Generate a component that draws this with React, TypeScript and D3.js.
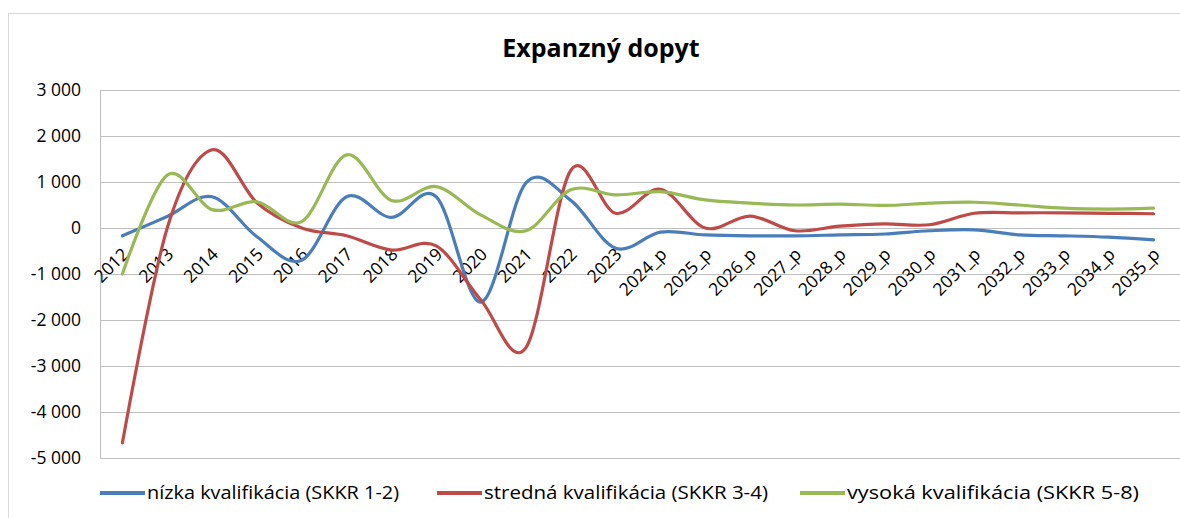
import React from "react";
import * as d3 from "d3";

const categories = ["2012","2013","2014","2015","2016","2017","2018","2019","2020","2021","2022","2023","2024_p","2025_p","2026_p","2027_p","2028_p","2029_p","2030_p","2031_p","2032_p","2033_p","2034_p","2035_p"];
const nizka = [-170, 250, 680, -190, -700, 680, 230, 680, -1610, 980, 600, -440, -90, -150, -170, -170, -150, -130, -60, -40, -150, -170, -200, -260];
const stredna = [-4670, 0, 1700, 550, 0, -170, -480, -390, -1570, -2600, 1250, 320, 840, 0, 260, -60, 40, 90, 70, 320, 330, 330, 320, 310];
const vysoka = [-1000, 1150, 400, 570, 140, 1590, 600, 900, 280, -60, 830, 720, 790, 610, 540, 500, 520, 490, 540, 560, 500, 430, 410, 430];
const yTicks = [3000, 2000, 1000, 0, -1000, -2000, -3000, -4000, -5000];
const seriesNames = ["nízka kvalifikácia (SKKR 1-2)", "stredná kvalifikácia (SKKR 3-4)", "vysoká kvalifikácia (SKKR 5-8)"];
const colors = ["#4A7EBB", "#BE4B48", "#98B954"];
const title = "Expanzný dopyt";

export default function App() {
  const W = 1180, H = 518;
  const left = 100, right = 1176, top = 90, bottom = 458;
  const x = d3.scaleBand().domain(categories).range([left, right]);
  const y = d3.scaleLinear().domain([-5000, 3000]).range([bottom, top]);
  const cx = (c: string) => (x(c) as number) + x.bandwidth() / 2;
  const series = [nizka, stredna, vysoka];
  const line = d3.line<number>()
    .x((_, i) => cx(categories[i]))
    .y((d) => y(d))
    .curve(d3.curveCatmullRom.alpha(0));
  const fmt = (v: number) => d3.format(",")(v).replace(/,/g, " ").replace("\u2212", "-");
  const font = "'Open Sans', 'DejaVu Sans', sans-serif";
  const legendX = [100, 437, 800];
  const legendTextLen = [252, 284, 292];
  return (
    <svg width={W} height={H} style={{ position: "absolute", left: 0, top: 0, background: "#fff" }}>
      <rect x={8.5} y={13.5} width={1200} height={520} fill="#fff" stroke="#D9D9D9" />
      <text x={601} y={57} textAnchor="middle" fontFamily={font} fontWeight={700} fontSize={25}>{title}</text>
      {yTicks.map((t) => (
        <g key={t}>
          <line x1={left} x2={right + 10} y1={Math.round(y(t)) + 0.5} y2={Math.round(y(t)) + 0.5} stroke="#BFBFBF" />
          <text x={81} y={y(t)} dy="0.35em" textAnchor="end" fontFamily={font} fontSize={17.5}>{fmt(t)}</text>
        </g>
      ))}
      <line x1={left + 0.5} x2={left + 0.5} y1={top} y2={bottom} stroke="#BFBFBF" />
      {categories.map((c) => (
        <text key={c} transform={`translate(${cx(c) + 3},${y(0) + 23}) rotate(-45)`} textAnchor="end" dy="0.35em" fontFamily={font} fontSize={17.5}>{c}</text>
      ))}
      {series.map((s, i) => (
        <path key={i} d={line(s) || ""} fill="none" stroke={colors[i]} strokeWidth={3.2} strokeLinejoin="round" strokeLinecap="round" />
      ))}
      {seriesNames.map((n, i) => (
        <g key={n}>
          <line x1={legendX[i]} x2={legendX[i] + 45} y1={493} y2={493} stroke={colors[i]} strokeWidth={4} />
          <text x={legendX[i] + 47} y={499} fontFamily="'Liberation Sans Narrow', 'Open Sans', sans-serif" fontSize={18} textLength={legendTextLen[i]} lengthAdjust="spacingAndGlyphs">{n}</text>
        </g>
      ))}
    </svg>
  );
}
